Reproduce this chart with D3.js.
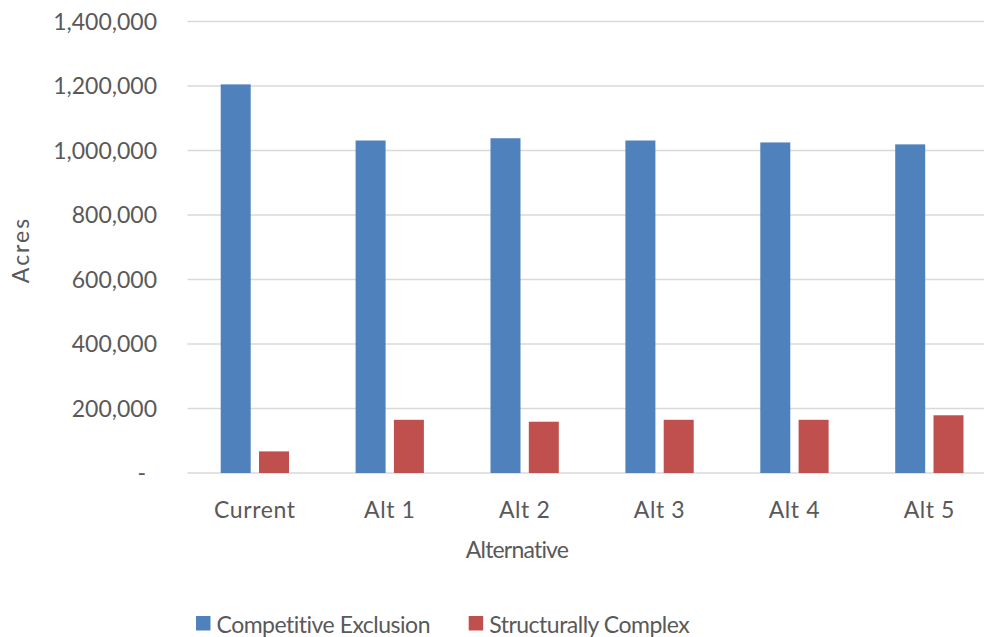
<!DOCTYPE html>
<html>
<head>
<meta charset="utf-8">
<script src="https://cdn.jsdelivr.net/npm/d3@7"></script>
<style>
  html, body { margin: 0; padding: 0; background: #fff; }
  svg text { font-family: Lato, "Open Sans", sans-serif; fill: #595959; }
</style>
</head>
<body>
<svg id="chart" width="984" height="637"></svg>
<script>
const categories = ["Current", "Alt 1", "Alt 2", "Alt 3", "Alt 4", "Alt 5"];
const seriesNames = ["Competitive Exclusion", "Structurally Complex"];
const competitiveExclusion = [1205000, 1031000, 1038000, 1031000, 1025000, 1019000];
const structurallyComplex = [67000, 165000, 159000, 165000, 165000, 179000];
const yTicks = [0, 200000, 400000, 600000, 800000, 1000000, 1200000, 1400000];
const colors = ["#4f81bd", "#c0504d"];

const svg = d3.select("#chart");
const left = 187.4, band = 134.9;
const x0 = d3.scaleBand().domain(categories).range([left, left + band * categories.length]);
const x1 = d3.scaleBand().domain(seriesNames).range([33.3, 101.6]).paddingInner(0.217);
const y = d3.scaleLinear().domain([0, 1400000]).range([473, 21.5]);

// gridlines
svg.append("g").selectAll("line").data(yTicks).join("line")
  .attr("x1", left).attr("x2", 984)
  .attr("y1", d => y(d)).attr("y2", d => y(d))
  .attr("stroke", "#d9d9d9").attr("stroke-width", 1.5);

// y axis labels
const fmt = d3.format(",");
svg.append("g").selectAll("text").data(yTicks).join("text")
  .attr("x", d => d === 0 ? 146 : 157)
  .attr("y", d => y(d) + 8)
  .attr("text-anchor", "end")
  .attr("font-size", 23)
  .text(d => d === 0 ? "-" : fmt(d));

// bars
const data = categories.map((c, i) => ({ cat: c, vals: [competitiveExclusion[i], structurallyComplex[i]] }));
const g = svg.append("g").selectAll("g").data(data).join("g")
  .attr("transform", d => `translate(${x0(d.cat)},0)`);
g.selectAll("rect").data(d => d.vals.map((v, j) => ({ s: seriesNames[j], v, j })))
  .join("rect")
  .attr("x", d => x1(d.s))
  .attr("width", x1.bandwidth())
  .attr("y", d => y(d.v))
  .attr("height", d => y(0) - y(d.v))
  .attr("fill", d => colors[d.j]);

// x labels
svg.append("g").selectAll("text").data(categories).join("text")
  .attr("x", d => x0(d) + band / 2)
  .attr("y", 517.5)
  .attr("text-anchor", "middle")
  .attr("font-size", 23)
  .attr("letter-spacing", 0.6)
  .text(d => d);

// axis titles
svg.append("text").attr("x", 517).attr("y", 558).attr("text-anchor", "middle")
  .attr("font-size", 23).attr("letter-spacing", -0.8).text("Alternative");
svg.append("text").attr("transform", "translate(29,250) rotate(-90)")
  .attr("text-anchor", "middle").attr("font-size", 23).attr("letter-spacing", 2).text("Acres");

// legend
const legendX = [196, 468.7];
const lg = svg.append("g").selectAll("g").data(seriesNames).join("g")
  .attr("transform", (d, i) => `translate(${legendX[i]},0)`);
lg.append("rect").attr("x", 0).attr("y", 616).attr("width", 14.5).attr("height", 14.5)
  .attr("fill", (d, i) => colors[i]);
lg.append("text").attr("x", 20.5).attr("y", 632.5).attr("font-size", 23)
  .attr("letter-spacing", -0.5).text(d => d);
</script>
</body>
</html>
